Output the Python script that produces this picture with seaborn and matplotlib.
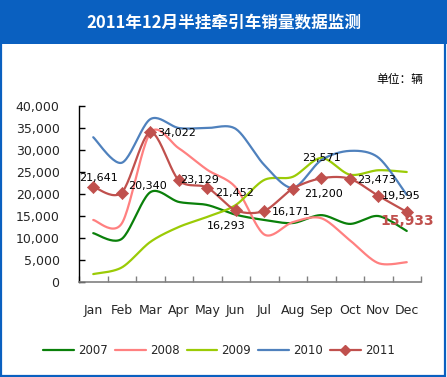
import numpy as np
import pandas as pd
import matplotlib
matplotlib.use("Agg")
import matplotlib.pyplot as plt
from matplotlib.patches import Rectangle
from matplotlib.lines import Line2D
import seaborn as sns

months = ["Jan", "Feb", "Mar", "Apr", "May", "Jun", "Jul", "Aug", "Sep", "Oct", "Nov", "Dec"]
s2007 = [11100, 9800, 20400, 18200, 17500, 15300, 14100, 13400, 15200, 13200, 15000, 11600]
s2008 = [14100, 13300, 33900, 30400, 25500, 21500, 10800, 13600, 14500, 9500, 4300, 4500]
s2009 = [1800, 3300, 9100, 12500, 14800, 17500, 23200, 23900, 28200, 24400, 25400, 25000]
s2010 = [32900, 27100, 37000, 35000, 35000, 34800, 26600, 21400, 27700, 29800, 28300, 19800]
s2011 = [21641, 20340, 34022, 23129, 21452, 16293, 16171, 21200, 23571, 23473, 19595, 15933]
labels2011 = ["21,641", "20,340", "34,022", "23,129", "21,452", "16,293", "16,171",
              "21,200", "23,571", "23,473", "19,595", "15,933"]
years = ["2007", "2008", "2009", "2010", "2011"]
colors = ["#0A800A", "#FF8080", "#9BCB06", "#4F81BD", "#C0504D"]
title = "2011年12月半挂牵引车销量数据监测"
unit = "单位：辆"
yticks = [0, 5000, 10000, 15000, 20000, 25000, 30000, 35000, 40000]

sns.set_style("white")
plt.rcParams['font.family'] = ['DejaVu Sans', 'Noto Sans CJK SC']


def smooth(vals, n=24):
    p = np.asarray(vals, dtype=float)
    x = np.arange(len(p), dtype=float)
    P = np.concatenate([[p[0]], p, [p[-1]]])
    X = np.concatenate([[x[0]], x, [x[-1]]])
    xs, ys = [], []
    for i in range(1, len(P) - 2):
        t = np.linspace(0, 1, n, endpoint=False)
        for arr, out in ((X, xs), (P, ys)):
            p0, p1, p2, p3 = arr[i - 1], arr[i], arr[i + 1], arr[i + 2]
            m1 = (p2 - p0) / 2 * 0.9
            m2 = (p3 - p1) / 2 * 0.9
            h00 = 2 * t**3 - 3 * t**2 + 1
            h10 = t**3 - 2 * t**2 + t
            h01 = -2 * t**3 + 3 * t**2
            h11 = t**3 - t**2
            out.extend(h00 * p1 + h10 * m1 + h01 * p2 + h11 * m2)
    xs.append(x[-1]); ys.append(p[-1])
    return np.array(xs), np.array(ys)


fig = plt.figure(figsize=(4.47, 3.77), dpi=100)
fig.patch.set_facecolor("white")
# title banner
fig.patches.append(Rectangle((0, 1 - 44 / 377), 1, 44 / 377, transform=fig.transFigure,
                             facecolor="#0A60C0", edgecolor="none", zorder=0))
fig.patches.append(Rectangle((0.5 / 447, 1.5 / 377), 444.5 / 447, 374 / 377, transform=fig.transFigure,
                             facecolor="none", edgecolor="#0A60C0", lw=1.6, zorder=1))
fig.text(0.5, 1 - 22 / 377, title, color="white", fontsize=12, fontweight="bold",
         ha="center", va="center", family=["Noto Sans CJK SC"])
fig.text(423 / 447, 1 - 80 / 377, unit, color="black", fontsize=8.5,
         ha="right", va="center", family=["Noto Sans CJK SC"])

ax = fig.add_axes([79 / 447, 1 - 282 / 377, 342 / 447, 176 / 377])
series = [s2007, s2008, s2009, s2010, s2011]
for name, vals, c in zip(years, series, colors):
    xs, ys = smooth(vals)
    sns.lineplot(x=xs, y=ys, color=c, lw=1.6, ax=ax, sort=False, estimator=None, zorder=3)

sns.scatterplot(x=np.arange(12), y=s2011, marker="D", color=colors[4], s=38,
                edgecolor=colors[4], linewidth=0.5, ax=ax, zorder=4)

offsets = [(5, 9), (26, 7), (26, -1), (21, 0), (27, -5), (-10, -16), (27, -1),
           (31, -5), (0, 20), (27, -1), (23, 0), (0, -9)]
for i, (lab, off) in enumerate(zip(labels2011, offsets)):
    if i == 11:
        ax.annotate(lab, (i, s2011[i]), xytext=off, textcoords="offset pixels",
                    ha="center", va="center", fontsize=10, fontweight="bold",
                    color=colors[4], zorder=5)
    else:
        ax.annotate(lab, (i, s2011[i]), xytext=off, textcoords="offset pixels",
                    ha="center", va="center", fontsize=8, color="black", zorder=5)

ax.set_xlim(-0.5, 11.5)
ax.set_ylim(0, 40000)
ax.set_yticks(yticks)
ax.set_yticklabels([f"{v:,}" for v in yticks], fontsize=9)
ax.set_xticks(np.arange(-0.5, 12, 1))
ax.set_xticklabels([])
ax.set_xticks(np.arange(12), minor=True)
ax.set_xticklabels(months, minor=True, fontsize=9)
ax.tick_params(axis="y", direction="in", length=4, width=1, color="black", pad=14, left=True)
ax.tick_params(axis="x", which="major", direction="in", length=4, width=1, color="#808080", bottom=True)
ax.tick_params(axis="x", which="minor", length=0, pad=16)
for s in ["top", "right"]:
    ax.spines[s].set_visible(False)
ax.spines["left"].set_color("black")
ax.spines["left"].set_linewidth(1)
ax.spines["bottom"].set_color("#808080")
ax.spines["bottom"].set_linewidth(1.2)
ax.grid(False)
ax.set_facecolor("white")

handles = []
for i, c in enumerate(colors):
    if i == 4:
        handles.append(Line2D([], [], color=c, lw=1.6, marker="D", markersize=5))
    else:
        handles.append(Line2D([], [], color=c, lw=1.6))
fig.legend(handles, years, loc="center", bbox_to_anchor=(219 / 447, 1 - 351 / 377), ncol=5,
           frameon=False, fontsize=8.5, handlelength=2.6, handletextpad=0.35, columnspacing=0.6)

fig.savefig("out.png", dpi=100)
